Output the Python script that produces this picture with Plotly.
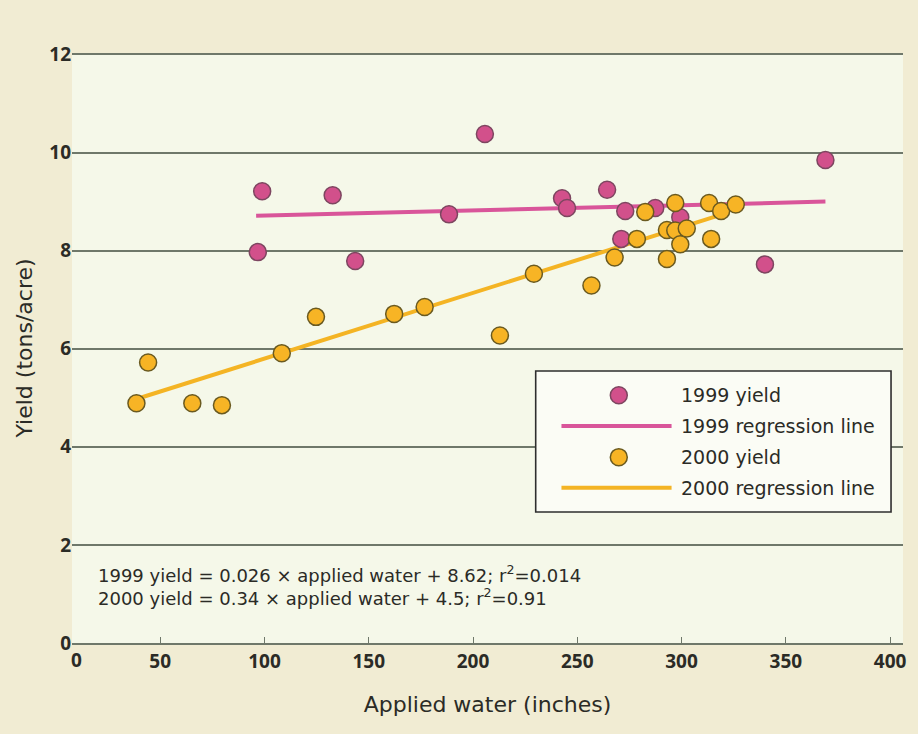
import plotly.graph_objects as go

# ---------------- data ----------------
water_1999 = [96.8, 98.9, 132.7, 143.5, 188.5, 205.7, 242.7, 245.1, 264.3,
              271.1, 273.0, 287.4, 299.4, 340.0, 369.0]
yield_1999 = [7.97, 9.21, 9.13, 7.79, 8.74, 10.38, 9.07, 8.87, 9.24,
              8.24, 8.81, 8.87, 8.68, 7.72, 9.85]

water_2000 = [38.6, 44.2, 65.4, 79.6, 108.3, 124.7, 162.2, 176.8, 212.9,
              229.2, 256.8, 267.9, 278.6, 282.6, 293.0, 293.0, 297.0, 297.0,
              299.4, 302.5, 313.2, 314.2, 319.0, 326.0]
yield_2000 = [4.89, 5.72, 4.89, 4.85, 5.91, 6.65, 6.71, 6.85, 6.27,
              7.53, 7.29, 7.86, 8.24, 8.79, 7.83, 8.42, 8.97, 8.41,
              8.13, 8.45, 8.97, 8.24, 8.81, 8.94]

reg1999_x = [96.0, 369.0]
reg1999_y = [8.71, 9.00]
reg2000_x = [39.0, 318.0]
reg2000_y = [4.98, 8.72]

x_tick_vals = [50, 100, 150, 200, 250, 300, 350, 400]
x_tick_text = ["50", "100", "150", "200", "250", "300", "350", "400"]
y_tick_vals = [0, 2, 4, 6, 8, 10, 12]

legend_labels = ["1999 yield", "1999 regression line", "2000 yield", "2000 regression line"]
equations = ["1999 yield = 0.026 × applied water + 8.62; r<sup>2</sup>=0.014",
             "2000 yield = 0.34 × applied water + 4.5; r<sup>2</sup>=0.91"]

# ---------------- styling ----------------
FONT = "DejaVu Sans"
TICKFONT = "Open Sans"
TXT = "#2b2b26"
GRID = "#6f786a"
PINK = "#d2508b"
PINK_EDGE = "#7d4660"
PINK_LINE = "#d9559a"
GOLD = "#f7b425"
GOLD_EDGE = "#6a5a20"
GOLD_LINE = "#f4b424"
X_MIN, X_MAX = 7.7, 406.2

fig = go.Figure()
fig.add_trace(go.Scatter(x=reg1999_x, y=reg1999_y, mode="lines", name=legend_labels[1],
                         line=dict(color=PINK_LINE, width=4), showlegend=False))
fig.add_trace(go.Scatter(x=reg2000_x, y=reg2000_y, mode="lines", name=legend_labels[3],
                         line=dict(color=GOLD_LINE, width=4), showlegend=False))
fig.add_trace(go.Scatter(x=water_1999, y=yield_1999, mode="markers", name=legend_labels[0],
                         marker=dict(size=17, color=PINK, line=dict(color=PINK_EDGE, width=1.5)),
                         showlegend=False))
fig.add_trace(go.Scatter(x=water_2000, y=yield_2000, mode="markers", name=legend_labels[2],
                         marker=dict(size=17, color=GOLD, line=dict(color=GOLD_EDGE, width=1.5)),
                         showlegend=False))

# ---------------- custom legend box ----------------
W, H = 833.0, 590.0
shapes = [dict(type="rect", xref="paper", yref="paper", x0=0.558, x1=0.9856, y0=0.222, y1=0.461,
               fillcolor="#fbfcf5", line=dict(color="#2e2e2e", width=1.6), layer="above")]
row_y = [0.420, 0.368, 0.315, 0.263]
kinds = [("marker", PINK, PINK_EDGE), ("line", PINK_LINE, None),
         ("marker", GOLD, GOLD_EDGE), ("line", GOLD_LINE, None)]
annotations = []
for (kind, c, e), yy, lab in zip(kinds, row_y, legend_labels):
    if kind == "marker":
        rx, ry = 8.5 / W, 8.5 / H
        shapes.append(dict(type="circle", xref="paper", yref="paper", x0=0.658 - rx, x1=0.658 + rx,
                           y0=yy - ry, y1=yy + ry, fillcolor=c, line=dict(color=e, width=1.5),
                           layer="above"))
    else:
        shapes.append(dict(type="line", xref="paper", yref="paper", x0=0.589, x1=0.7215,
                           y0=yy, y1=yy, line=dict(color=c, width=4), layer="above"))
    annotations.append(dict(xref="paper", yref="paper", x=0.731, y=yy, text=lab, showarrow=False,
                            xanchor="left", yanchor="middle", font=dict(family=FONT, size=19, color=TXT)))

annotations.append(dict(xref="paper", yref="paper", x=0.029, y=0.0975, text="<br>".join(equations),
                        showarrow=False, xanchor="left", yanchor="middle", align="left",
                        font=dict(family=FONT, size=18, color=TXT)))

# "0" label at the axis origin, as placed in the reference
annotations.append(dict(xref="paper", yref="paper", x=0.006, y=0, yshift=-17, text="<b>0</b>",
                        showarrow=False, xanchor="center", yanchor="middle",
                        font=dict(family=TICKFONT, size=19, color=TXT)))

fig.update_layout(
    width=918, height=734,
    margin=dict(l=72, r=13, t=53, b=91),
    paper_bgcolor="#f1ecd3",
    plot_bgcolor="#f5f8e9",
    font=dict(family=FONT, color=TXT),
    shapes=shapes,
    annotations=annotations,
    showlegend=False,
)
fig.update_xaxes(
    range=[X_MIN, X_MAX], tickvals=x_tick_vals, ticktext=x_tick_text,
    showgrid=False, zeroline=False, showline=True, linecolor=GRID, linewidth=1.5,
    ticks="inside", ticklen=6, tickwidth=1.2, tickcolor=GRID,
    tickfont=dict(family=TICKFONT, size=19, color=TXT, weight="bold"),
    title=dict(text="Applied water (inches)", font=dict(family=FONT, size=22, color=TXT), standoff=24),
)
fig.update_yaxes(
    range=[0, 12.03], tickvals=y_tick_vals, showgrid=True, gridcolor=GRID, gridwidth=1.5,
    zeroline=False, showline=False, ticks="",
    tickfont=dict(family=TICKFONT, size=19, color=TXT, weight="bold"),
    title=dict(text="Yield (tons/acre)", font=dict(family=FONT, size=22, color=TXT), standoff=10),
)

fig.write_html("out.html")
